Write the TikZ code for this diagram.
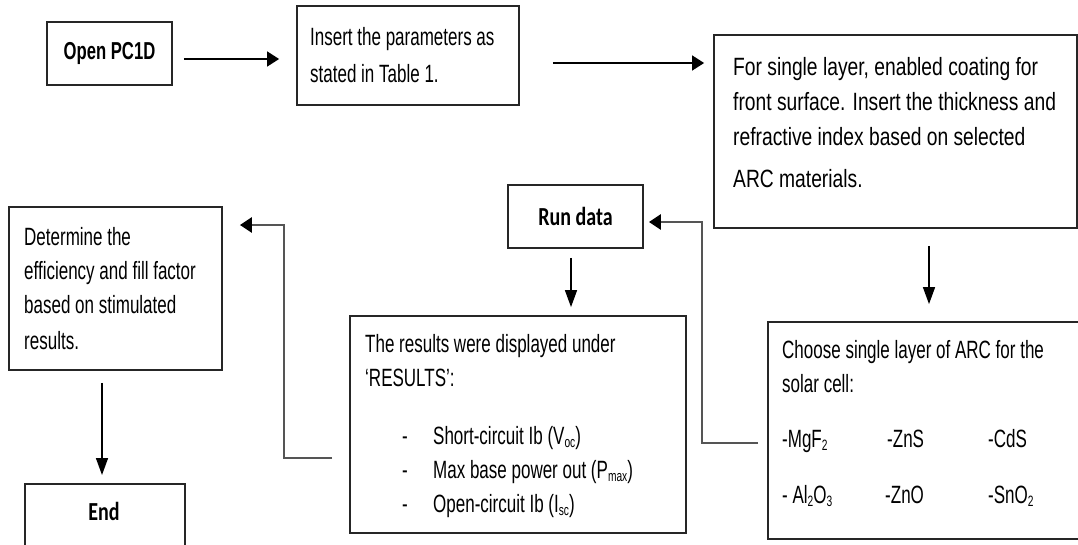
\documentclass[tikz,border=0pt]{standalone}
\usepackage{fontspec}
\setmainfont{Liberation Sans}[FakeStretch=0.68]
\newfontfamily\widefont{Liberation Sans}[FakeStretch=0.77]
\newfontfamily\calfont{Carlito}[FakeStretch=0.77]
\usetikzlibrary{arrows.meta}
\definecolor{boxgray}{HTML}{262626}
\definecolor{linkgray}{HTML}{555555}
\newcommand\lo[1]{\raisebox{-0.25ex}{\fontsize{15}{15}\selectfont #1}}
\tikzset{
  box/.style={draw=boxgray, line width=1.8pt, rectangle, inner sep=0pt},
  body/.style={inner sep=0pt, anchor=north west, align=left,
    font=\fontsize{25}{34}\selectfont},
  head/.style={font=\calfont\bfseries\fontsize{26}{30}\selectfont},
  hz/.style={line width=1.5pt, draw=black,
    -{Triangle[length=12pt,width=15pt]}},
  vt/.style={line width=1.5pt, draw=black,
    -{Triangle[length=17pt,width=12pt]}},
  elbow/.style={line width=2.6pt, draw=linkgray,
    -{Triangle[length=12pt,width=15pt,fill=black,color=black]}},
}
\begin{document}
\begin{tikzpicture}[x=1pt,y=-1pt]
\useasboundingbox (0,0) rectangle (1078,544);
\clip (0,0) rectangle (1078,544);

% boxes
\node[box, minimum width=125pt, minimum height=63pt,
      font=\bfseries\fontsize{24.5}{30}\selectfont] (open) at (109.5,53.5) {Open PC1D};
\node[box, minimum width=222pt, minimum height=99pt] (insert) at (408,55.5) {};
\node[box, minimum width=363pt, minimum height=193pt] (single) at (895.5,131.5) {};
\node[box, minimum width=135pt, minimum height=63pt, head] (run) at (575.5,216.5) {Run data};
\node[box, minimum width=336pt, minimum height=217pt] (results) at (518,424.5) {};
\node[box, minimum width=322pt, minimum height=217pt] (choose) at (929,430.5) {};
\node[box, minimum width=213pt, minimum height=163pt] (determine) at (115.5,288.5) {};
\node[box, minimum width=160pt, minimum height=77pt, anchor=north west] (end) at (24,483) {};

% box texts
\node[body, font=\fontsize{25}{37}\selectfont] (insert-t) at (310,27)
  {Insert the parameters as\\stated in Table 1.};
\node[body, font=\widefont\fontsize{25}{35}\selectfont] (single-t) at (733,57)
  {For single layer, enabled coating for\\front surface. Insert the thickness and\\refractive index based on selected\\[7pt]ARC materials.};
\node[body] (determine-t) at (24,227)
  {Determine the\\efficiency and fill factor\\based on stimulated\\[2pt]results.};
\node[body] (results-t) at (365,334)
  {The results were displayed under\\‘RESULTS’:\\[24pt]
   \hspace*{37pt}\makebox[31pt][l]{-}Short-circuit Ib (V\lo{oc})\\
   \hspace*{37pt}\makebox[31pt][l]{-}Max base power out (P\lo{max})\\
   \hspace*{37pt}\makebox[31pt][l]{-}Open-circuit Ib (I\lo{sc})};
\node[body] (choose-t) at (782,340)
  {Choose single layer of ARC for the\\solar cell:\\[21pt]
   \makebox[105pt][l]{-MgF\lo{2}}\makebox[101pt][l]{-ZnS}-CdS\\[22pt]
   \makebox[103pt][l]{- Al\lo{2}O\lo{3}}\makebox[103pt][l]{-ZnO}-SnO\lo{2}};
\node[head, anchor=base, inner sep=0pt] (end-t) at (104,520) {End};

% connectors
\draw[hz, shorten <=11pt, shorten >=17pt]
  ([yshift=-5.5pt]open.east) -- ([yshift=-5.5pt]open.east -| insert.west);
\draw[hz, shorten <=33pt, shorten >=9pt]
  ([yshift=-7.5pt]insert.east) -- ([yshift=-7.5pt]insert.east -| single.west);
\draw[vt, shorten <=17pt, shorten >=17pt]
  ([xshift=33.5pt]single.south) -- ([xshift=33.5pt]single.south |- choose.north);
\draw[elbow, shorten <=9pt, shorten >=5pt]
  ([yshift=-12.5pt]choose.west) -- ++(-65,0) |- ([yshift=-5.5pt]run.east);
\draw[vt, shorten <=9pt, shorten >=8pt]
  ([xshift=-4.5pt]run.south) -- ([xshift=-4.5pt]run.south |- results.north);
\draw[elbow, shorten <=17pt, shorten >=17pt]
  ([yshift=-33.5pt]results.west) -- ++(-65,0) |- ([yshift=63.5pt]determine.east);
\draw[vt, shorten <=12pt, shorten >=8pt]
  ([xshift=-13.5pt]determine.south) -- ([xshift=-13.5pt]determine.south |- end.north);
\end{tikzpicture}
\end{document}
